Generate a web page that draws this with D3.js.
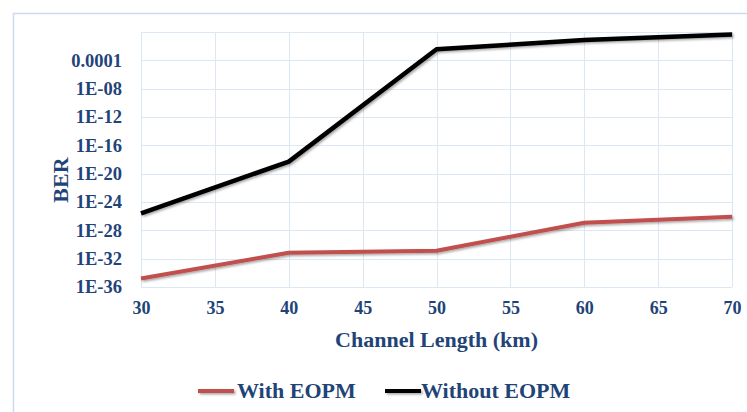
<!DOCTYPE html>
<html>
<head>
<meta charset="utf-8">
<script src="https://cdn.jsdelivr.net/npm/d3@7"></script>
<style>
  html, body { margin: 0; padding: 0; background: #ffffff; }
  svg { display: block; }
</style>
</head>
<body>
<svg id="chart" width="747" height="412"></svg>
<script>
// Channel length (km) on the x axis
const lengths = [30, 40, 50, 60, 70];
// BER for each configuration
const withEOPM = [1.6e-35, 6.9e-32, 1.3e-31, 1.2e-27, 8.5e-27];
const withoutEOPM = [2.5e-26, 5e-19, 3.6e-3, 7.4e-2, 4.5e-1];
// Axis ticks
const xTicks = [30, 35, 40, 45, 50, 55, 60, 65, 70];
const yTicks = [1e-36, 1e-32, 1e-28, 1e-24, 1e-20, 1e-16, 1e-12, 1e-8, 1e-4, 1];
const yTickLabels = ["1E-36", "1E-32", "1E-28", "1E-24", "1E-20", "1E-16", "1E-12", "1E-08", "0.0001", ""];
const seriesNames = ["With EOPM", "Without EOPM"];
const seriesColors = ["#C0504D", "#000000"];

const FONT = "'Liberation Serif', 'Times New Roman', Tinos, 'DejaVu Serif', serif";
const INK = "#1F4478";

const svg = d3.select("#chart");
const plot = { left: 141, top: 32, right: 732, bottom: 287 };

function styleText(sel, size) {
  sel.style("font-family", FONT).style("font-weight", "bold")
     .style("font-size", size + "px").style("fill", INK);
}

// outer chart frame (top and left edges visible)
svg.append("rect")
  .attr("x", 13.5).attr("y", 13.5)
  .attr("width", 760).attr("height", 420)
  .attr("fill", "none").attr("stroke", "#cadcf0").attr("stroke-width", 1.5);

const defs = svg.append("defs");
const f = defs.append("filter").attr("id", "shadow")
  .attr("filterUnits", "userSpaceOnUse")
  .attr("x", 0).attr("y", 0).attr("width", 747).attr("height", 412);
f.append("feDropShadow").attr("dx", 1.5).attr("dy", 1.5).attr("stdDeviation", 1.2)
  .attr("flood-color", "#000").attr("flood-opacity", 0.35);

const x = d3.scaleLinear().domain([30, 70]).range([plot.left, plot.right]);
const y = d3.scaleLog().domain([1e-36, 1]).range([plot.bottom, plot.top]);

// grid
const grid = svg.append("g");
grid.selectAll("line.h").data(yTicks).join("line")
  .attr("x1", plot.left).attr("x2", plot.right)
  .attr("y1", d => Math.round(y(d)) + 0.5).attr("y2", d => Math.round(y(d)) + 0.5)
  .attr("stroke", "#dce7f4").attr("stroke-width", 1);
grid.selectAll("line.v").data(xTicks).join("line")
  .attr("y1", plot.top).attr("y2", plot.bottom)
  .attr("x1", d => Math.round(x(d)) + 0.5).attr("x2", d => Math.round(x(d)) + 0.5)
  .attr("stroke", "#dce7f4").attr("stroke-width", 1);

// axes
const xAxis = svg.append("g")
  .attr("transform", `translate(0,${plot.bottom})`)
  .call(d3.axisBottom(x).tickValues(xTicks).tickSize(0).tickPadding(14).tickFormat(d3.format("d")));
xAxis.select(".domain").remove();
styleText(xAxis.selectAll("text"), 18);

const yAxis = svg.append("g")
  .attr("transform", `translate(${plot.left},0)`)
  .call(d3.axisLeft(y).tickValues(yTicks).tickSize(0).tickPadding(19)
    .tickFormat((d, i) => yTickLabels[i]));
yAxis.select(".domain").remove();
styleText(yAxis.selectAll("text"), 18.5);

// series lines
const line = d3.line().x((d, i) => x(lengths[i])).y(d => y(d));
[withEOPM, withoutEOPM].forEach((s, k) => {
  svg.append("path").datum(s)
    .attr("d", line)
    .attr("fill", "none")
    .attr("stroke", seriesColors[k])
    .attr("stroke-width", k === 0 ? 4 : 4.5)
    .attr("stroke-linejoin", "round")
    .attr("filter", "url(#shadow)");
});

// axis titles
styleText(svg.append("text")
  .attr("x", (plot.left + plot.right) / 2).attr("y", 347)
  .attr("text-anchor", "middle")
  .text("Channel Length (km)"), 22);
styleText(svg.append("text")
  .attr("transform", "translate(68,180) rotate(-90)")
  .attr("text-anchor", "middle")
  .text("BER"), 22);

// legend
const legendItems = [{ lx: 198, tx: 237 }, { lx: 385, tx: 421 }];
legendItems.forEach((p, k) => {
  svg.append("line")
    .attr("x1", p.lx).attr("x2", p.lx + 36)
    .attr("y1", 391).attr("y2", 391)
    .attr("stroke", seriesColors[k]).attr("stroke-width", 4)
    .attr("filter", "url(#shadow)");
  styleText(svg.append("text")
    .attr("x", p.tx).attr("y", 397.5)
    .text(seriesNames[k]), 22);
});
</script>
</body>
</html>
